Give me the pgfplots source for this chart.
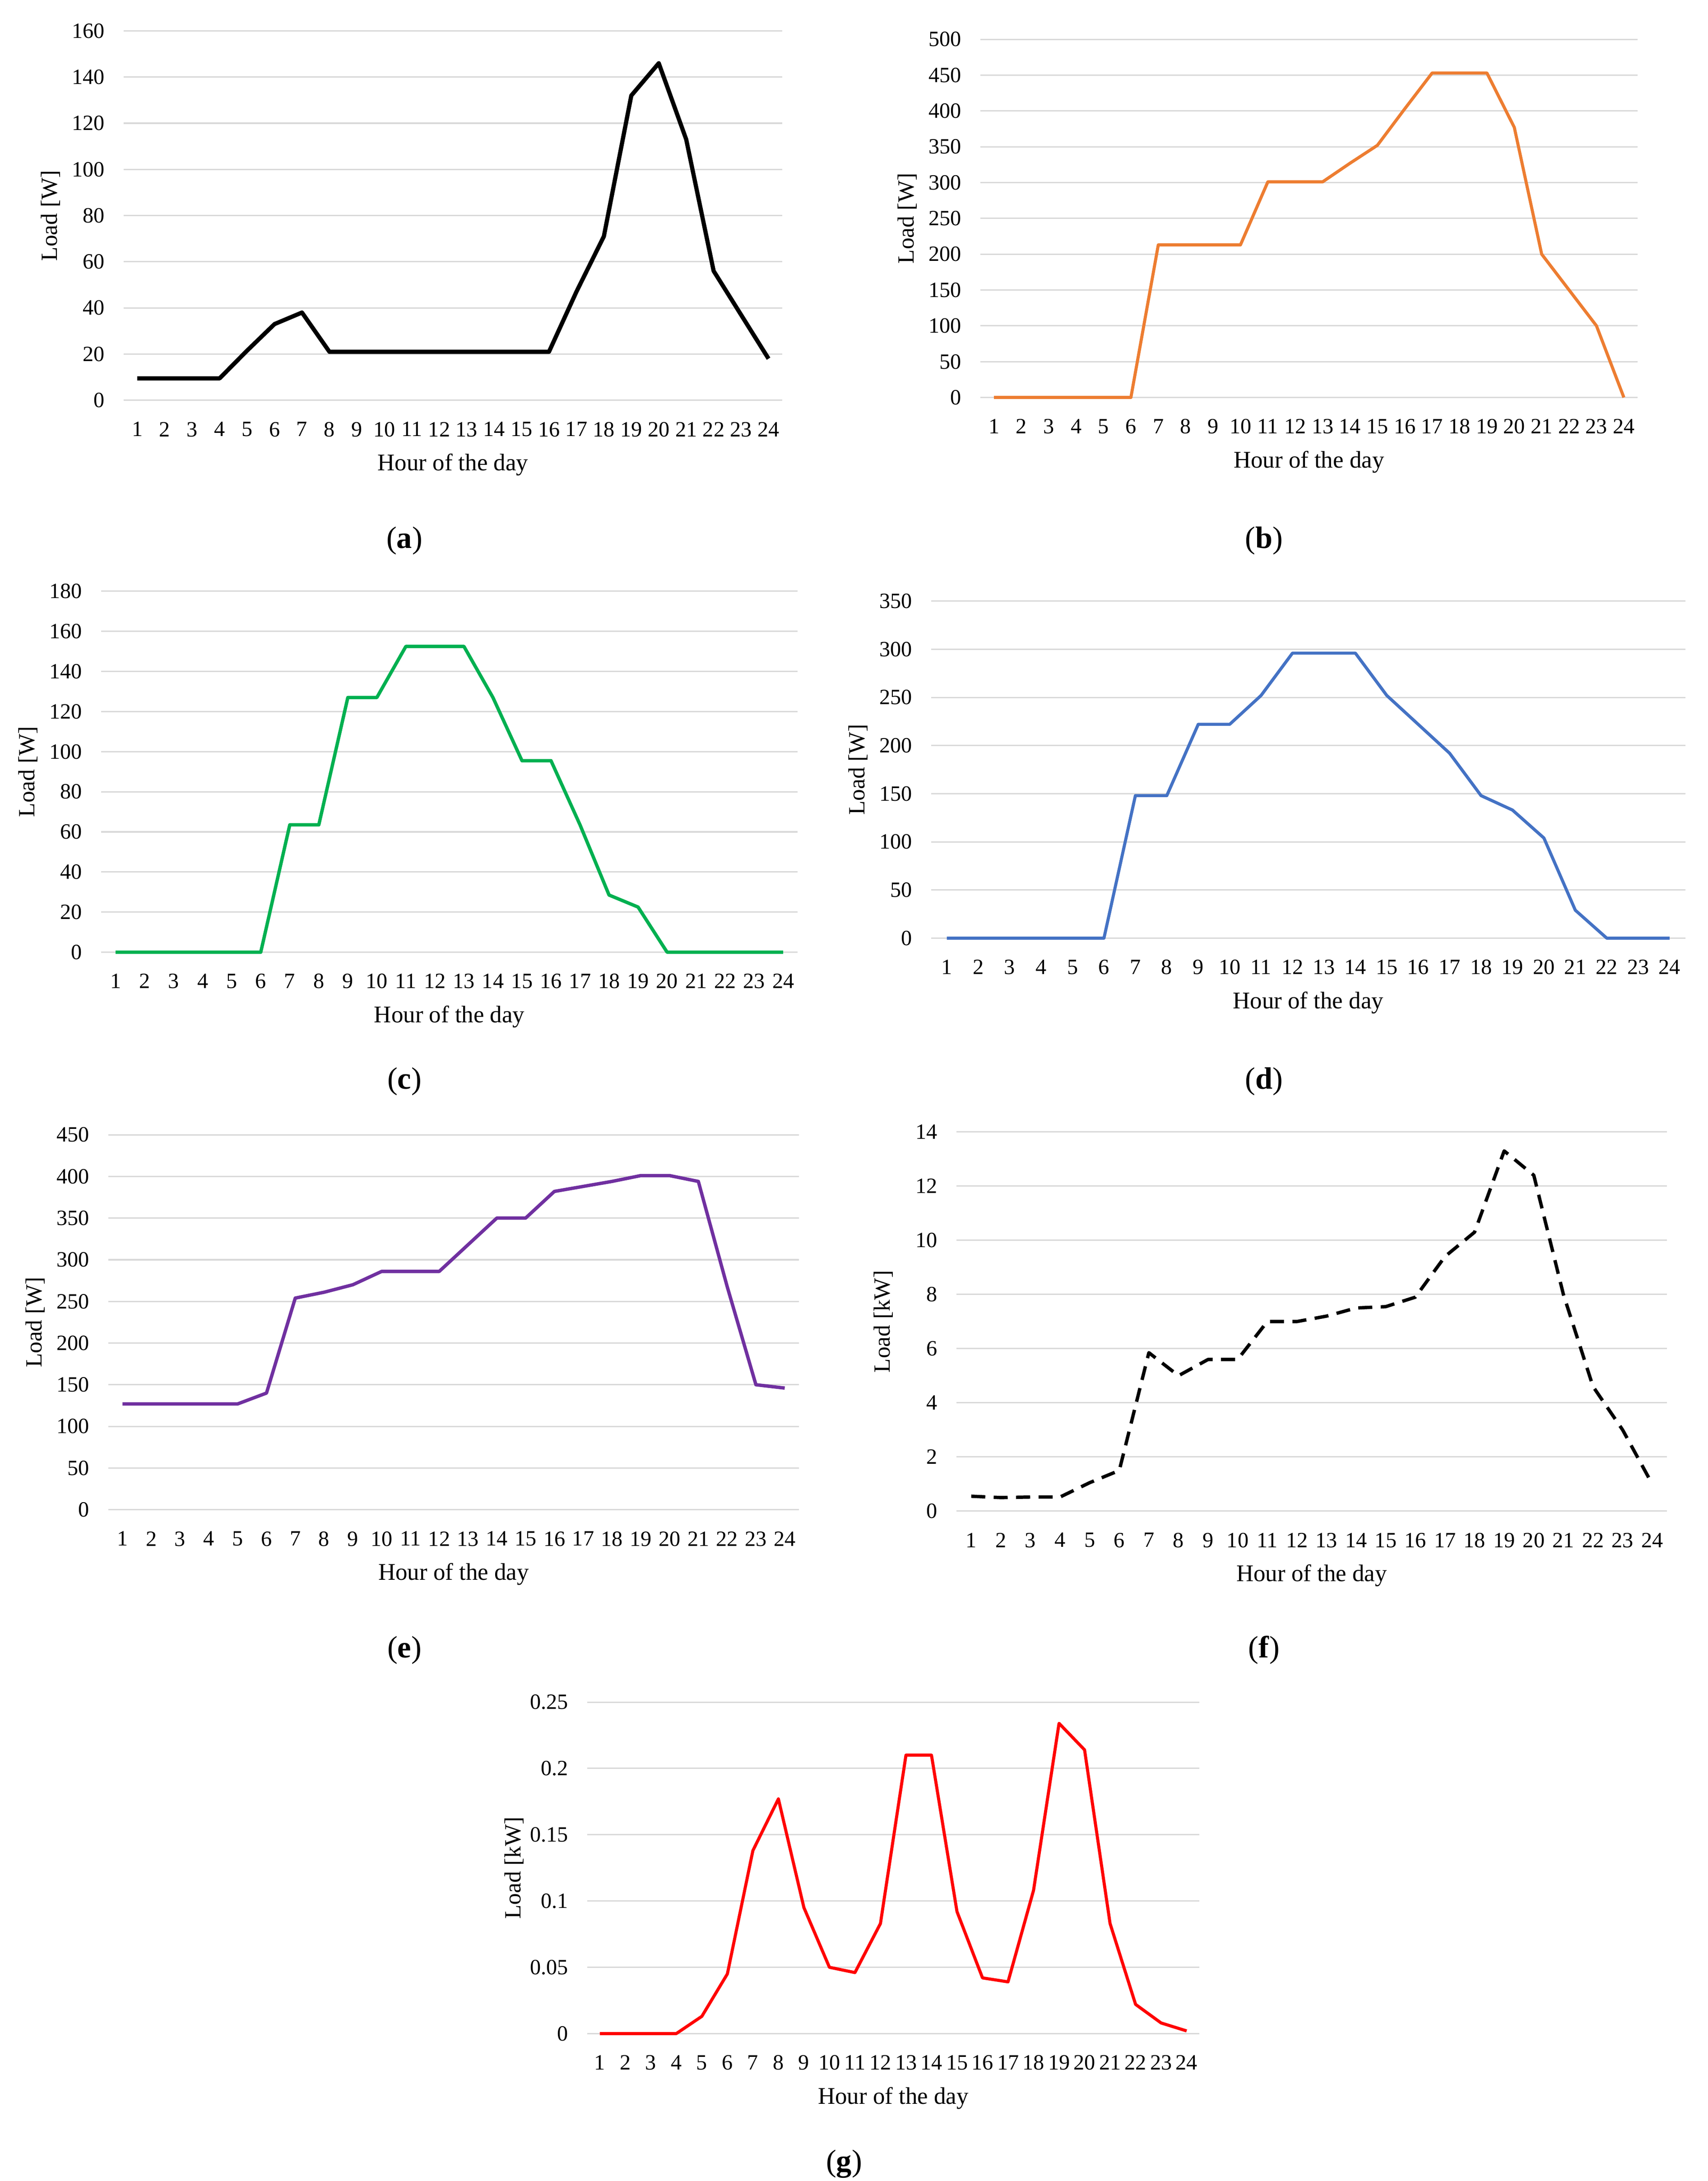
\documentclass[border=0pt]{standalone}
\usepackage{fontspec}
\setmainfont{Liberation Serif}
\usepackage{pgfplots}
\pgfplotsset{compat=1.18}

\definecolor{gridgray}{HTML}{D9D9D9}
\definecolor{xlorange}{HTML}{ED7D31}
\definecolor{xlgreen}{HTML}{00B050}
\definecolor{xlblue}{HTML}{4472C4}
\definecolor{xlpurple}{HTML}{7030A0}
\definecolor{xlred}{HTML}{FF0000}

\pgfplotsset{
  loadchart/.style={
    scale only axis,
    anchor=south west,
    xmin=0.5, xmax=24.5,
    xtick={1,...,24},
    ymin=0,
    axis line style={draw=none},
    major tick length=0pt,
    ymajorgrids,
    grid style={line width=1pt, color=gridgray},
    tick label style={font=\fontsize{15.5}{17}\selectfont},
    xticklabel style={yshift=-12pt},
    yticklabel style={xshift=-10pt},
    /pgf/number format/assume math mode=true,
    scaled y ticks=false,
    xlabel={Hour of the day},
    ylabel={Load [W]},
    every axis x label/.style={at={(axis description cs:0.5,0)}, anchor=center,
      yshift=-46pt, font=\fontsize{17}{19}\selectfont},
    every axis y label/.style={at={(axis description cs:0,0.5)}, xshift=-52pt,
      rotate=90, anchor=center, font=\fontsize{16.5}{18}\selectfont},
    clip=false,
  },
  loadline/.style={line join=round, line cap=butt},
}

\newcommand{\sublabel}[3]{\node[font=\fontsize{22}{24}\selectfont] at (#1pt,-#2pt) {(\textbf{#3})};}

\begin{document}
\begin{tikzpicture}
\useasboundingbox (0pt,0pt) rectangle (1216pt,-1553pt);

% (a)
\begin{axis}[loadchart, at={(88pt,-285pt)}, width=469pt, height=263pt,
  ymax=160, ytick={0,20,...,160}]
\addplot[loadline, black, line width=3pt] coordinates {
(1,9.5) (2,9.5) (3,9.5) (4,9.5) (5,21.5) (6,33) (7,38) (8,21) (9,21) (10,21)
(11,21) (12,21) (13,21) (14,21) (15,21) (16,21) (17,47) (18,71) (19,132)
(20,146) (21,113) (22,56) (23,37) (24,18)};
\end{axis}
\sublabel{288}{385}{a}

% (b)
\begin{axis}[loadchart, at={(698pt,-283pt)}, width=468pt, height=255pt,
  ymax=500, ytick={0,50,...,500}]
\addplot[loadline, xlorange, line width=2.2pt] coordinates {
(1,0) (2,0) (3,0) (4,0) (5,0) (6,0) (7,213) (8,213) (9,213) (10,213)
(11,301) (12,301) (13,301) (14,327) (15,352) (16,403) (17,453) (18,453)
(19,453) (20,377) (21,200) (22,150) (23,100) (24,0)};
\end{axis}
\sublabel{900}{385}{b}

% (c)
\begin{axis}[loadchart, at={(72pt,-678pt)}, width=496pt, height=257pt,
  ymax=180, ytick={0,20,...,180}]
\addplot[loadline, xlgreen, line width=2.4pt] coordinates {
(1,0) (2,0) (3,0) (4,0) (5,0) (6,0) (7,63.5) (8,63.5) (9,127) (10,127)
(11,152.5) (12,152.5) (13,152.5) (14,127) (15,95.5) (16,95.5) (17,63.5)
(18,28.5) (19,22.5) (20,0) (21,0) (22,0) (23,0) (24,0)};
\end{axis}
\sublabel{288}{770}{c}

% (d)
\begin{axis}[loadchart, at={(663pt,-668pt)}, width=537pt, height=240pt,
  ymax=350, ytick={0,50,...,350}]
\addplot[loadline, xlblue, line width=2.2pt] coordinates {
(1,0) (2,0) (3,0) (4,0) (5,0) (6,0) (7,148) (8,148) (9,222) (10,222)
(11,252) (12,296) (13,296) (14,296) (15,252) (16,222) (17,192) (18,148)
(19,133) (20,104) (21,29) (22,0) (23,0) (24,0)};
\end{axis}
\sublabel{900}{770}{d}

% (e)
\begin{axis}[loadchart, at={(77pt,-1075pt)}, width=492pt, height=267pt,
  ymax=450, ytick={0,50,...,450}]
\addplot[loadline, xlpurple, line width=2.4pt] coordinates {
(1,127) (2,127) (3,127) (4,127) (5,127) (6,140) (7,254) (8,261) (9,270)
(10,286) (11,286) (12,286) (13,318) (14,350) (15,350) (16,382) (17,388)
(18,394) (19,401) (20,401) (21,394) (22,268) (23,150) (24,146)};
\end{axis}
\sublabel{288}{1175}{e}

% (f)
\begin{axis}[loadchart, at={(681pt,-1076pt)}, width=506pt, height=270pt,
  ymax=14, ytick={0,2,...,14}, ylabel={Load [kW]}]
\addplot[loadline, black, line width=2.4pt, dash pattern=on 10pt off 6pt] coordinates {
(1,0.55) (2,0.5) (3,0.52) (4,0.52) (5,1.05) (6,1.5) (7,5.85) (8,5.0)
(9,5.6) (10,5.6) (11,7.0) (12,7.0) (13,7.2) (14,7.5) (15,7.55) (16,7.9)
(17,9.4) (18,10.3) (19,13.3) (20,12.4) (21,8.0) (22,4.6) (23,3.0) (24,1.0)};
\end{axis}
\sublabel{900}{1175}{f}

% (g)
\begin{axis}[loadchart, at={(418pt,-1448pt)}, width=436pt, height=236pt,
  ymax=0.25, ytick={0,0.05,0.1,0.15,0.2,0.25},
  yticklabels={0,0.05,0.1,0.15,0.2,0.25}, ylabel={Load [kW]}]
\addplot[loadline, xlred, line width=2.2pt] coordinates {
(1,0) (2,0) (3,0) (4,0) (5,0.013) (6,0.045) (7,0.138) (8,0.177) (9,0.095)
(10,0.05) (11,0.046) (12,0.083) (13,0.21) (14,0.21) (15,0.092) (16,0.042)
(17,0.039) (18,0.108) (19,0.234) (20,0.214) (21,0.083) (22,0.022)
(23,0.008) (24,0.002)};
\end{axis}
\sublabel{601}{1541}{g}

\end{tikzpicture}
\end{document}
